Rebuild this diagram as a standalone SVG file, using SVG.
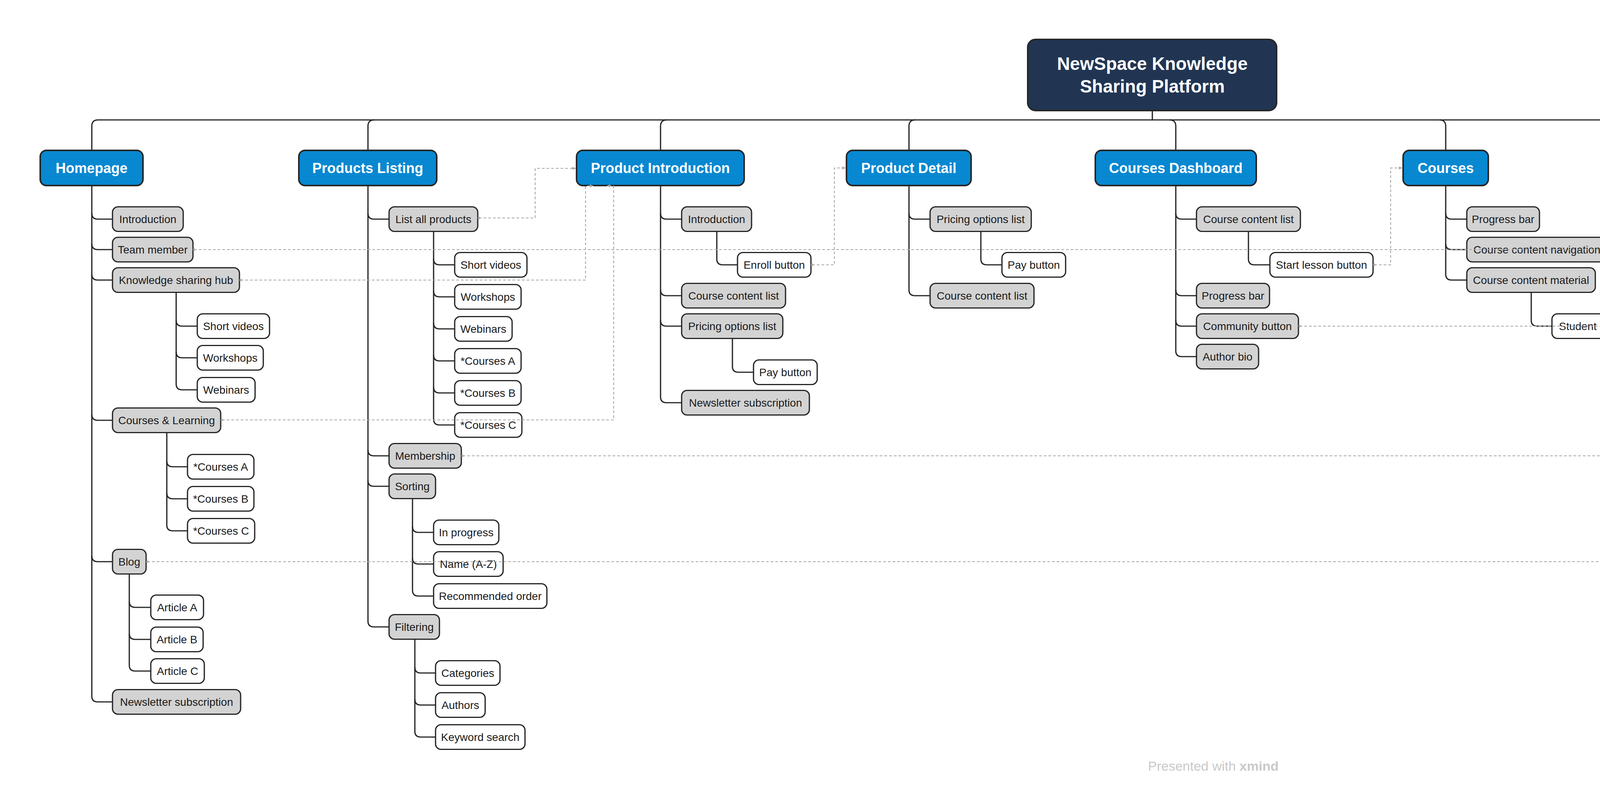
<svg xmlns="http://www.w3.org/2000/svg" width="6214" height="2020" viewBox="0 0 6214 2020">
<style>
text{font-family:"Liberation Sans",Arial,sans-serif}
.root{fill:#213553;stroke:#262626;stroke-width:4}
.main{fill:#0788D1;stroke:#262626;stroke-width:4}
.s2{fill:#D3D3D3;stroke:#262626;stroke-width:3.2}
.s3{fill:#FFFFFF;stroke:#262626;stroke-width:3.2}
.tr{fill:#fff;font-size:46px;font-weight:bold;text-anchor:middle}
.tm{fill:#fff;font-size:36px;font-weight:bold;text-anchor:middle}
.ts{fill:#1a1a1a;font-size:28px;text-anchor:middle}
.con path{fill:none;stroke:#262626;stroke-width:3.2}
.rel path{fill:none;stroke:#a8a8a8;stroke-width:2.2;stroke-dasharray:7 5;marker-end:url(#arr);marker-start:url(#dot)}
.foot{fill:#c9c9c9;font-size:34px;text-anchor:middle}
</style>
<defs>
<marker id="arr" markerUnits="userSpaceOnUse" markerWidth="10" markerHeight="10" refX="9" refY="5" orient="auto"><path d="M0,1 L9,5 L0,9 z" fill="#a8a8a8"/></marker>
<marker id="dot" markerUnits="userSpaceOnUse" markerWidth="8" markerHeight="8" refX="4" refY="4"><circle cx="4" cy="4" r="3" fill="#a8a8a8"/></marker>
</defs>
<rect width="6214" height="2020" fill="#fff"/>

<g id="connectors" class="con">
<path d="M2950,283 V307"/>
<path d="M251,307 H5649"/>
<path d="M251,307 Q235,307 235,323 V385"/>
<path d="M958,307 Q942,307 942,323 V385"/>
<path d="M1707,307 Q1691,307 1691,323 V385"/>
<path d="M2343,307 Q2327,307 2327,323 V385"/>
<path d="M2994,307 Q3010,307 3010,323 V385"/>
<path d="M3685,307 Q3701,307 3701,323 V385"/>
<path d="M4472,307 Q4488,307 4488,323 V385"/>
<path d="M5092,307 Q5108,307 5108,323 V385"/>
<path d="M5361,307 Q5377,307 5377,323 V385"/>
<path d="M5649,307 Q5665,307 5665,323 V385"/>
<!-- Homepage -->
<path d="M235,475 V1782 Q235,1797 250,1797 H288"/>
<path d="M235,546 Q235,561 250,561 H288"/>
<path d="M235,624 Q235,639 250,639 H288"/>
<path d="M235,702 Q235,717 250,717 H288"/>
<path d="M235,1061 Q235,1076 250,1076 H288"/>
<path d="M235,1423 Q235,1438 250,1438 H288"/>
<path d="M451,748 V983 Q451,998 466,998 H505"/>
<path d="M451,820 Q451,835 466,835 H505"/>
<path d="M451,901 Q451,916 466,916 H505"/>
<path d="M427,1107 V1344 Q427,1359 442,1359 H480"/>
<path d="M427,1180 Q427,1195 442,1195 H480"/>
<path d="M427,1262 Q427,1277 442,1277 H480"/>
<path d="M331,1469 V1703 Q331,1718 346,1718 H386"/>
<path d="M331,1540 Q331,1555 346,1555 H386"/>
<path d="M331,1622 Q331,1637 346,1637 H386"/>
<!-- Products Listing -->
<path d="M942,475 V1590 Q942,1605 957,1605 H996"/>
<path d="M942,546 Q942,561 957,561 H996"/>
<path d="M942,1152 Q942,1167 957,1167 H996"/>
<path d="M942,1230 Q942,1245 957,1245 H996"/>
<path d="M1110,592 V1073 Q1110,1088 1125,1088 H1164"/>
<path d="M1110,663 Q1110,678 1125,678 H1164"/>
<path d="M1110,745 Q1110,760 1125,760 H1164"/>
<path d="M1110,827 Q1110,842 1125,842 H1164"/>
<path d="M1110,909 Q1110,924 1125,924 H1164"/>
<path d="M1110,991 Q1110,1006 1125,1006 H1164"/>
<path d="M1056,1276 V1511 Q1056,1526 1071,1526 H1110"/>
<path d="M1056,1348 Q1056,1363 1071,1363 H1110"/>
<path d="M1056,1429 Q1056,1444 1071,1444 H1110"/>
<path d="M1062,1636 V1872 Q1062,1887 1077,1887 H1115"/>
<path d="M1062,1708 Q1062,1723 1077,1723 H1115"/>
<path d="M1062,1790 Q1062,1805 1077,1805 H1115"/>
<!-- Product Introduction -->
<path d="M1691,475 V1016 Q1691,1031 1706,1031 H1745"/>
<path d="M1691,546 Q1691,561 1706,561 H1745"/>
<path d="M1691,742 Q1691,757 1706,757 H1745"/>
<path d="M1691,820 Q1691,835 1706,835 H1745"/>
<path d="M1835,592 V663 Q1835,678 1850,678 H1888"/>
<path d="M1875,866 V938 Q1875,953 1890,953 H1929"/>
<!-- Product Detail -->
<path d="M2327,475 V742 Q2327,757 2342,757 H2381"/>
<path d="M2327,546 Q2327,561 2342,561 H2381"/>
<path d="M2511,592 V663 Q2511,678 2526,678 H2565"/>
<!-- Courses Dashboard -->
<path d="M3010,475 V898 Q3010,913 3025,913 H3063"/>
<path d="M3010,546 Q3010,561 3025,561 H3063"/>
<path d="M3010,742 Q3010,757 3025,757 H3063"/>
<path d="M3010,820 Q3010,835 3025,835 H3063"/>
<path d="M3196,592 V663 Q3196,678 3211,678 H3251"/>
<!-- Courses -->
<path d="M3701,475 V702 Q3701,717 3716,717 H3755"/>
<path d="M3701,546 Q3701,561 3716,561 H3755"/>
<path d="M3701,624 Q3701,639 3716,639 H3755"/>
<path d="M3920,748 V820 Q3920,835 3935,835 H3973"/>
<!-- Join Membership -->
<path d="M4488,475 V624 Q4488,639 4503,639 H4542"/>
<path d="M4488,546 Q4488,561 4503,561 H4542"/>
<path d="M4700,670 V742 Q4700,757 4715,757 H4755"/>
<!-- Community -->
<path d="M5665,475 V1147 Q5665,1162 5680,1162 H5718"/>
<path d="M5665,546 Q5665,561 5680,561 H5718"/>
<path d="M5665,1069 Q5665,1084 5680,1084 H5718"/>
<path d="M5802,592 V991 Q5802,1006 5817,1006 H5855"/>
<path d="M5802,663 Q5802,678 5817,678 H5855"/>
<path d="M5802,745 Q5802,760 5817,760 H5855"/>
<path d="M5802,827 Q5802,842 5817,842 H5855"/>
<path d="M5802,909 Q5802,924 5817,924 H5855"/>
</g>

<g id="root"><rect class="root" x="2631" y="101" width="637" height="182" rx="20"/><text class="tr" x="2950" y="179">NewSpace Knowledge</text><text class="tr" x="2950" y="237">Sharing Platform</text></g>

<g id="homepage"><rect class="main" x="103" y="385" width="263" height="90" rx="16"/><text class="tm" x="234.5" y="443">Homepage</text></g>
<g id="products-listing"><rect class="main" x="765" y="385" width="353" height="90" rx="16"/><text class="tm" x="941.5" y="443">Products Listing</text></g>
<g id="product-introduction"><rect class="main" x="1476" y="385" width="429" height="90" rx="16"/><text class="tm" x="1690.5" y="443">Product Introduction</text></g>
<g id="product-detail"><rect class="main" x="2167" y="385" width="319" height="90" rx="16"/><text class="tm" x="2326.5" y="443">Product Detail</text></g>
<g id="courses-dashboard"><rect class="main" x="2804" y="385" width="412" height="90" rx="16"/><text class="tm" x="3010" y="443">Courses Dashboard</text></g>
<g id="courses"><rect class="main" x="3592" y="385" width="218" height="90" rx="16"/><text class="tm" x="3701" y="443">Courses</text></g>
<g id="join-membership"><rect class="main" x="4302" y="385" width="371" height="90" rx="16"/><text class="tm" x="4487.5" y="443">Join Membership</text></g>
<g id="our-team"><rect class="main" x="4992" y="385" width="232" height="90" rx="16"/><text class="tm" x="5108" y="443">Our team</text></g>
<g id="blog-main"><rect class="main" x="5300" y="385" width="156" height="90" rx="16"/><text class="tm" x="5378" y="443">Blog</text></g>
<g id="community"><rect class="main" x="5527" y="385" width="275" height="90" rx="16"/><text class="tm" x="5664.5" y="443">Community</text></g>

<!-- Homepage subtree -->
<g id="hp-introduction"><rect class="s2" x="288" y="529.5" width="181" height="63" rx="14"/><text class="ts" x="378.5" y="571">Introduction</text></g>
<g id="hp-team-member"><rect class="s2" x="288" y="607.5" width="206" height="63" rx="14"/><text class="ts" x="391" y="649">Team member</text></g>
<g id="hp-knowledge-hub"><rect class="s2" x="288" y="685.5" width="325" height="63" rx="14"/><text class="ts" x="450.5" y="727">Knowledge sharing hub</text></g>
<g id="hp-kh-short-videos"><rect class="s3" x="505" y="803.5" width="185" height="63" rx="14"/><text class="ts" x="597.5" y="845">Short videos</text></g>
<g id="hp-kh-workshops"><rect class="s3" x="505" y="884.5" width="169" height="63" rx="14"/><text class="ts" x="589.5" y="926">Workshops</text></g>
<g id="hp-kh-webinars"><rect class="s3" x="505" y="966.5" width="148" height="63" rx="14"/><text class="ts" x="579" y="1008">Webinars</text></g>
<g id="hp-courses-learning"><rect class="s2" x="288" y="1044.5" width="277" height="63" rx="14"/><text class="ts" x="426.5" y="1086">Courses &amp; Learning</text></g>
<g id="hp-cl-courses-a"><rect class="s3" x="480" y="1163.5" width="170" height="63" rx="14"/><text class="ts" x="565" y="1205">*Courses A</text></g>
<g id="hp-cl-courses-b"><rect class="s3" x="480" y="1245.5" width="170" height="63" rx="14"/><text class="ts" x="565" y="1287">*Courses B</text></g>
<g id="hp-cl-courses-c"><rect class="s3" x="480" y="1327.5" width="172" height="63" rx="14"/><text class="ts" x="566" y="1369">*Courses C</text></g>
<g id="hp-blog"><rect class="s2" x="288" y="1406.5" width="86" height="63" rx="14"/><text class="ts" x="331" y="1448">Blog</text></g>
<g id="hp-article-a"><rect class="s3" x="386" y="1523.5" width="135" height="63" rx="14"/><text class="ts" x="453.5" y="1565">Article A</text></g>
<g id="hp-article-b"><rect class="s3" x="386" y="1605.5" width="134" height="63" rx="14"/><text class="ts" x="453" y="1647">Article B</text></g>
<g id="hp-article-c"><rect class="s3" x="386" y="1686.5" width="137" height="63" rx="14"/><text class="ts" x="454.5" y="1728">Article C</text></g>
<g id="hp-newsletter"><rect class="s2" x="288" y="1765.5" width="328" height="63" rx="14"/><text class="ts" x="452" y="1807">Newsletter subscription</text></g>

<!-- Products Listing subtree -->
<g id="pl-list-all"><rect class="s2" x="996" y="529.5" width="227" height="63" rx="14"/><text class="ts" x="1109.5" y="571">List all products</text></g>
<g id="pl-short-videos"><rect class="s3" x="1164" y="646.5" width="185" height="63" rx="14"/><text class="ts" x="1256.5" y="688">Short videos</text></g>
<g id="pl-workshops"><rect class="s3" x="1164" y="728.5" width="170" height="63" rx="14"/><text class="ts" x="1249" y="770">Workshops</text></g>
<g id="pl-webinars"><rect class="s3" x="1164" y="810.5" width="147" height="63" rx="14"/><text class="ts" x="1237.5" y="852">Webinars</text></g>
<g id="pl-courses-a"><rect class="s3" x="1164" y="892.5" width="170" height="63" rx="14"/><text class="ts" x="1249" y="934">*Courses A</text></g>
<g id="pl-courses-b"><rect class="s3" x="1164" y="974.5" width="170" height="63" rx="14"/><text class="ts" x="1249" y="1016">*Courses B</text></g>
<g id="pl-courses-c"><rect class="s3" x="1164" y="1056.5" width="172" height="63" rx="14"/><text class="ts" x="1250" y="1098">*Courses C</text></g>
<g id="pl-membership"><rect class="s2" x="996" y="1135.5" width="185" height="63" rx="14"/><text class="ts" x="1088.5" y="1177">Membership</text></g>
<g id="pl-sorting"><rect class="s2" x="996" y="1213.5" width="119" height="63" rx="14"/><text class="ts" x="1055.5" y="1255">Sorting</text></g>
<g id="pl-in-progress"><rect class="s3" x="1110" y="1331.5" width="167" height="63" rx="14"/><text class="ts" x="1193.5" y="1373">In progress</text></g>
<g id="pl-name-az"><rect class="s3" x="1110" y="1412.5" width="178" height="63" rx="14"/><text class="ts" x="1199" y="1454">Name (A-Z)</text></g>
<g id="pl-recommended"><rect class="s3" x="1110" y="1494.5" width="290" height="63" rx="14"/><text class="ts" x="1255" y="1536">Recommended order</text></g>
<g id="pl-filtering"><rect class="s2" x="996" y="1573.5" width="129" height="63" rx="14"/><text class="ts" x="1060.5" y="1615">Filtering</text></g>
<g id="pl-categories"><rect class="s3" x="1115" y="1691.5" width="165" height="63" rx="14"/><text class="ts" x="1197.5" y="1733">Categories</text></g>
<g id="pl-authors"><rect class="s3" x="1115" y="1773.5" width="127" height="63" rx="14"/><text class="ts" x="1178.5" y="1815">Authors</text></g>
<g id="pl-keyword"><rect class="s3" x="1115" y="1855.5" width="229" height="63" rx="14"/><text class="ts" x="1229.5" y="1897">Keyword search</text></g>

<!-- Product Introduction subtree -->
<g id="pi-introduction"><rect class="s2" x="1745" y="529.5" width="179" height="63" rx="14"/><text class="ts" x="1834.5" y="571">Introduction</text></g>
<g id="pi-enroll"><rect class="s3" x="1888" y="646.5" width="188" height="63" rx="14"/><text class="ts" x="1982" y="688">Enroll button</text></g>
<g id="pi-course-content"><rect class="s2" x="1745" y="725.5" width="266" height="63" rx="14"/><text class="ts" x="1878" y="767">Course content list</text></g>
<g id="pi-pricing"><rect class="s2" x="1745" y="803.5" width="259" height="63" rx="14"/><text class="ts" x="1874.5" y="845">Pricing options list</text></g>
<g id="pi-pay"><rect class="s3" x="1929" y="921.5" width="163" height="63" rx="14"/><text class="ts" x="2010.5" y="963">Pay button</text></g>
<g id="pi-newsletter"><rect class="s2" x="1745" y="999.5" width="327" height="63" rx="14"/><text class="ts" x="1908.5" y="1041">Newsletter subscription</text></g>

<!-- Product Detail subtree -->
<g id="pd-pricing"><rect class="s2" x="2381" y="529.5" width="259" height="63" rx="14"/><text class="ts" x="2510.5" y="571">Pricing options list</text></g>
<g id="pd-pay"><rect class="s3" x="2565" y="646.5" width="163" height="63" rx="14"/><text class="ts" x="2646.5" y="688">Pay button</text></g>
<g id="pd-course-content"><rect class="s2" x="2381" y="725.5" width="266" height="63" rx="14"/><text class="ts" x="2514" y="767">Course content list</text></g>

<!-- Courses Dashboard subtree -->
<g id="cd-course-content"><rect class="s2" x="3063" y="529.5" width="266" height="63" rx="14"/><text class="ts" x="3196" y="571">Course content list</text></g>
<g id="cd-start-lesson"><rect class="s3" x="3251" y="646.5" width="264" height="63" rx="14"/><text class="ts" x="3383" y="688">Start lesson button</text></g>
<g id="cd-progress"><rect class="s2" x="3063" y="725.5" width="187" height="63" rx="14"/><text class="ts" x="3156.5" y="767">Progress bar</text></g>
<g id="cd-community-button"><rect class="s2" x="3063" y="803.5" width="261" height="63" rx="14"/><text class="ts" x="3193.5" y="845">Community button</text></g>
<g id="cd-author-bio"><rect class="s2" x="3063" y="881.5" width="159" height="63" rx="14"/><text class="ts" x="3142.5" y="923">Author bio</text></g>

<!-- Courses subtree -->
<g id="c-progress"><rect class="s2" x="3755" y="529.5" width="186" height="63" rx="14"/><text class="ts" x="3848" y="571">Progress bar</text></g>
<g id="c-navigation"><rect class="s2" x="3755" y="607.5" width="359" height="63" rx="14"/><text class="ts" x="3934.5" y="649">Course content navigation</text></g>
<g id="c-material"><rect class="s2" x="3755" y="685.5" width="329" height="63" rx="14"/><text class="ts" x="3919.5" y="727">Course content material</text></g>
<g id="c-student-comment"><rect class="s3" x="3973" y="803.5" width="255" height="63" rx="14"/><text class="ts" x="4100.5" y="845">Student comment</text></g>

<!-- Join Membership subtree -->
<g id="jm-introduction"><rect class="s2" x="4542" y="529.5" width="180" height="63" rx="14"/><text class="ts" x="4632" y="571">Introduction</text></g>
<g id="jm-tier-select"><rect class="s2" x="4542" y="607.5" width="315" height="63" rx="14"/><text class="ts" x="4699.5" y="649">Membership tier select</text></g>
<g id="jm-pay"><rect class="s3" x="4755" y="725.5" width="161" height="63" rx="14"/><text class="ts" x="4835.5" y="767">Pay button</text></g>

<!-- Community subtree -->
<g id="cm-categories"><rect class="s2" x="5718" y="529.5" width="167" height="63" rx="14"/><text class="ts" x="5801.5" y="571">Categories</text></g>
<g id="cm-welcome"><rect class="s3" x="5855" y="646.5" width="147" height="63" rx="14"/><text class="ts" x="5928.5" y="688">Welcome</text></g>
<g id="cm-openspace"><rect class="s3" x="5855" y="728.5" width="177" height="63" rx="14"/><text class="ts" x="5943.5" y="770">OpenSpace</text></g>
<g id="cm-events"><rect class="s3" x="5855" y="810.5" width="115" height="63" rx="14"/><text class="ts" x="5912.5" y="852">Events</text></g>
<g id="cm-opportunity"><rect class="s3" x="5855" y="892.5" width="181" height="63" rx="14"/><text class="ts" x="5945.5" y="934">Opportunity</text></g>
<g id="cm-enrolled"><rect class="s3" x="5855" y="974.5" width="257" height="63" rx="14"/><text class="ts" x="5983.5" y="1016">Enrolled course(s)</text></g>
<g id="cm-tags"><rect class="s2" x="5718" y="1052.5" width="134" height="63" rx="14"/><text class="ts" x="5785" y="1094">Tags list</text></g>
<g id="cm-inbox"><rect class="s2" x="5718" y="1130.5" width="233" height="63" rx="14"/><text class="ts" x="5834.5" y="1172">Inbox messages</text></g>

<g id="relationships" class="rel">
<path d="M1226,558 H1370 V431 H1474"/>
<path d="M497,639 H5092 V476 H5107"/>
<path d="M616,717 H1499 V476 H1519"/>
<path d="M568,1075 H1571 V476 H1553"/>
<path d="M2079,678 H2136 V430 H2165"/>
<path d="M3518,678 H3560 V430 H3590"/>
<path d="M3327,835 H5573 V476 H5595"/>
<path d="M1184,1167 H4360 V476 H4342"/>
<path d="M377,1438 H5355 V476 H5372"/>
</g>

<text class="foot" x="3106" y="1973">Presented with <tspan font-weight="bold">xmind</tspan></text>
</svg>
